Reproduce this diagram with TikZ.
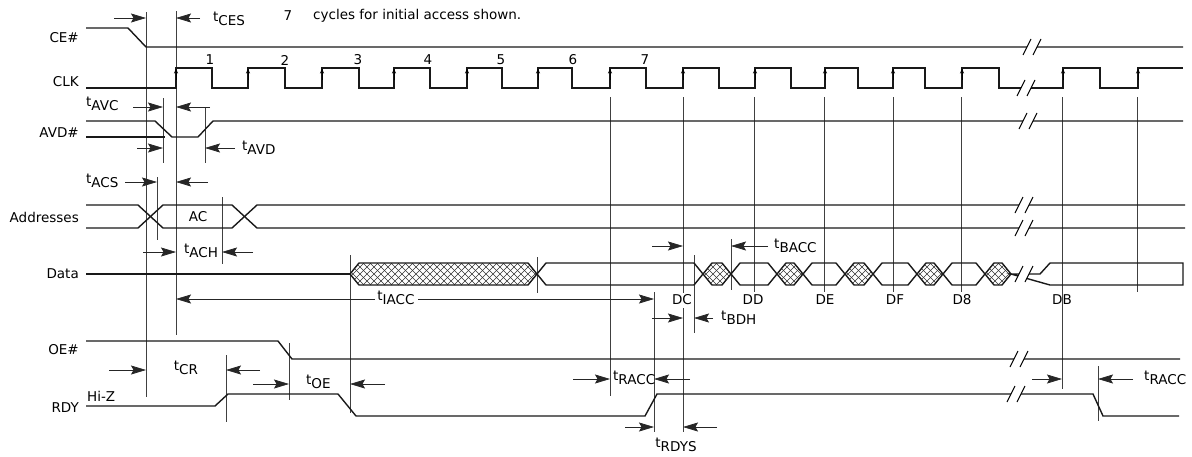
\documentclass[tikz,border=0pt]{standalone}
\usepackage{fontspec}
\setmainfont{DejaVu Sans}
\usetikzlibrary{arrows.meta}

\newcommand{\tparam}[1]{t\raisebox{-0.55ex}{#1}}
\newcommand{\breakmark}[2]{%
  \fill[white] (#1-3,#2+8) -- (#1+5,#2-8) -- (#1+15,#2-8) -- (#1+7,#2+8) -- cycle;
  \draw[line width=1pt] (#1-3,#2+8) -- (#1+5,#2-8) (#1+7,#2+8) -- (#1+15,#2-8);}
\newcommand{\datahex}[2]{%
  \draw[sig] (#1,274) -- (#1+9,263) -- (#2-9,263) -- (#2,274) -- (#2-9,285) -- (#1+9,285) -- cycle;}
\newcommand{\hatchhex}[2]{%
  \begin{scope}
    \clip (#1,274) -- (#1+9,263) -- (#2-9,263) -- (#2,274) -- (#2-9,285) -- (#1+9,285) -- cycle;
    \foreach \k in {0,7,...,210}
      \draw[hatch] (#1-22+\k,263) -- ++(22,22) (#1+\k,263) -- ++(-22,22);
  \end{scope}
  \datahex{#1}{#2}}

\begin{document}
\begin{tikzpicture}[x=1pt, y=-1pt,
    sig/.style={line width=1.4pt, black!90},
    guide/.style={line width=0.6pt, black!75},
    dim/.style={line width=0.7pt, black!85, -{Stealth[length=15pt,width=9pt,inset=2.5pt]}},
    hatch/.style={line width=0.5pt, black!80},
    lbl/.style={font=\fontsize{13.5}{15}\selectfont, inner sep=0pt},
    siglabel/.style={lbl, anchor=east}
  ]
  \useasboundingbox (0,0) rectangle (1192,456);

  % signal names
  \node[siglabel] (ceName)   at (79,38)  {CE\#};
  \node[siglabel] (clkName)  at (79,82)  {CLK};
  \node[siglabel] (avdName)  at (79,133) {AVD\#};
  \node[siglabel] (addrName) at (79,217) {Addresses};
  \node[siglabel] (dataName) at (79,274) {Data};
  \node[siglabel] (oeName)   at (79,350) {OE\#};
  \node[siglabel] (rdyName)  at (79,408) {RDY};
  \node[lbl, anchor=west] (hiz) at (87,396) {Hi-Z};

  \node[lbl] (seven) at (288,16) {7};
  \node[lbl, anchor=west] (note) at (313,16) {cycles for initial access shown.};
  \foreach \x/\n in {210/1, 285/2, 358/3, 428/4, 501/5, 573/6, 645/7}
    \node[lbl] (cyc\n) at (\x,60) {\n};

  % guide lines
  \draw[guide] (146,12) -- (146,397);
  \draw[guide] (176,11) -- (176,335);
  \draw[guide] (163,98) -- (163,163);
  \draw[guide] (205,107) -- (205,163);
  \draw[guide] (157,177) -- (157,240);
  \draw[guide] (222,197) -- (222,264);
  \draw[guide] (350,255) -- (350,413);
  \draw[guide] (537,257) -- (537,293);
  \draw[guide, line width=0.9pt] (610,97) -- (610,396);
  \draw[guide] (683,97) -- (683,293) (683,308) -- (683,432);
  \draw[guide] (654,292) -- (654,432);
  \draw[guide] (694,255) -- (694,333);
  \draw[guide] (731,239) -- (731,290);
  \foreach \x in {754,824,893,961,1137}
    \draw[guide] (\x,97) -- (\x,292);
  \draw[guide] (1062,97) -- (1062,389);
  \draw[guide] (289,343) -- (289,400);
  \draw[guide] (226,355) -- (226,422);
  \draw[guide] (1098,366) -- (1098,421);

  % CE#
  \draw[sig] (86,28) -- (128,28) -- (146,47) -- (1183,47);
  \breakmark{1026}{47}
  % CLK
  \draw[sig] (86,88) -| (176,68) -| (212,88) -| (248,68) -| (285,88) -| (322,68)
    -| (359,88) -| (394,68) -| (430,88) -| (467,68) -| (502,88) -| (538,68)
    -| (572,88) -| (610,68) -| (646,88) -| (683,68) -| (719,88) -| (755,68)
    -| (791,88) -| (825,68) -| (858,88) -| (893,68) -| (925,88) -| (962,68)
    -| (999,88) -| (1063,68) -| (1100,88) -| (1138,68) -- (1183,68);
  \breakmark{1020}{88}
  \foreach \x in {176,248,322,394,467,538,610,683,755,825,893,962,1063,1138}
    \draw[line width=0.6pt, -{Stealth[length=5pt,width=4pt]}] (\x,80) -- (\x,68.5);
  % AVD#
  \draw[sig] (86,121) -- (155,121) -- (172,137) -- (198,137) -- (213,121) -- (1183,121);
  \draw[sig] (86,137) -- (165,137);
  \breakmark{1022}{121}
  % Addresses
  \draw[sig] (86,205) -- (138,205) -- (163,228) -- (232,228) -- (257,205) -- (1185,205);
  \draw[sig] (86,228) -- (138,228) -- (163,205) -- (232,205) -- (257,228) -- (1185,228);
  \breakmark{1018}{205}
  \breakmark{1018}{228}
  \node[lbl] (ac) at (198,217) {AC};
  % Data
  \draw[sig] (86,274) -- (350,274);
  \hatchhex{350}{537}
  \datahex{537}{703}
  \hatchhex{703}{731}
  \datahex{731}{777}
  \hatchhex{777}{803}
  \datahex{803}{845}
  \hatchhex{845}{873}
  \datahex{873}{917}
  \hatchhex{917}{943}
  \datahex{943}{985}
  \hatchhex{985}{1011}
  \draw[sig] (1011,274) -- (1040,274) -- (1050,263) -- (1183,263) -- (1183,285) -- (1050,285) -- cycle;
  \breakmark{1018}{274}
  \foreach \x/\t in {682/DC, 753/DD, 825/DE, 895/DF, 962/D8, 1062/DB}
    \node[lbl] (data\t) at (\x,300) {\t};
  % OE#
  \draw[sig] (86,341) -- (278,341) -- (292,359) -- (1180,359);
  \breakmark{1013}{359}
  % RDY
  \draw[sig] (86,406) -- (215,406) -- (228,394) -- (338,394) -- (356,416) -- (645,416)
    -- (657,394) -- (1093,394) -- (1103,416) -- (1179,416);
  \breakmark{1010}{394}

  % timing parameters
  \draw[dim] (114,18) -- (146,18);
  \draw[dim] (200,18) -- (176,18);
  \node[lbl, anchor=west] (tces) at (213,19) {\tparam{CES}};
  \node[lbl, anchor=west] (tavc) at (86,104) {\tparam{AVC}};
  \draw[dim] (133,107) -- (163,107);
  \draw[dim] (210,107) -- (176,107);
  \draw[dim] (137,148) -- (163,148);
  \draw[dim] (235,148) -- (205,148);
  \node[lbl, anchor=west] (tavd) at (242,148) {\tparam{AVD}};
  \node[lbl, anchor=west] (tacs) at (86,181) {\tparam{ACS}};
  \draw[dim] (125,182) -- (157,182);
  \draw[dim] (208,182) -- (176,182);
  \draw[dim] (143,252) -- (176,252);
  \node[lbl, anchor=west] (tach) at (184,251) {\tparam{ACH}};
  \draw[dim] (253,252) -- (222,252);
  \node[lbl] (tiacc) at (396,298) {\tparam{IACC}};
  \draw[dim] (375,299) -- (176,299);
  \draw[dim] (418,299) -- (654,299);
  \draw[dim] (652,246) -- (683,246);
  \draw[dim] (768,246) -- (731,246);
  \node[lbl, anchor=west] (tbacc) at (774,246) {\tparam{BACC}};
  \draw[dim] (652,318) -- (683,318);
  \draw[dim] (713,318) -- (694,318);
  \node[lbl, anchor=west] (tbdh) at (721,318) {\tparam{BDH}};
  \draw[dim] (109,370) -- (146,370);
  \node[lbl] (tcr) at (186,368) {\tparam{CR}};
  \draw[dim] (260,370) -- (226,370);
  \draw[dim] (253,384) -- (289,384);
  \node[lbl, anchor=west] (toe) at (306,382) {\tparam{OE}};
  \draw[dim] (385,384) -- (350,384);
  \draw[dim] (573,379) -- (610,379);
  \node[lbl, anchor=west] (tracc) at (613,378) {\tparam{RACC}};
  \draw[dim] (690,379) -- (654,379);
  \draw[dim] (625,427) -- (654,427);
  \draw[dim] (717,427) -- (683,427);
  \node[lbl] (trdys) at (676,445) {\tparam{RDYS}};
  \draw[dim] (1032,379) -- (1062,379);
  \draw[dim] (1133,379) -- (1098,379);
  \node[lbl, anchor=west] (traccb) at (1144,378) {\tparam{RACC}};
\end{tikzpicture}
\end{document}
